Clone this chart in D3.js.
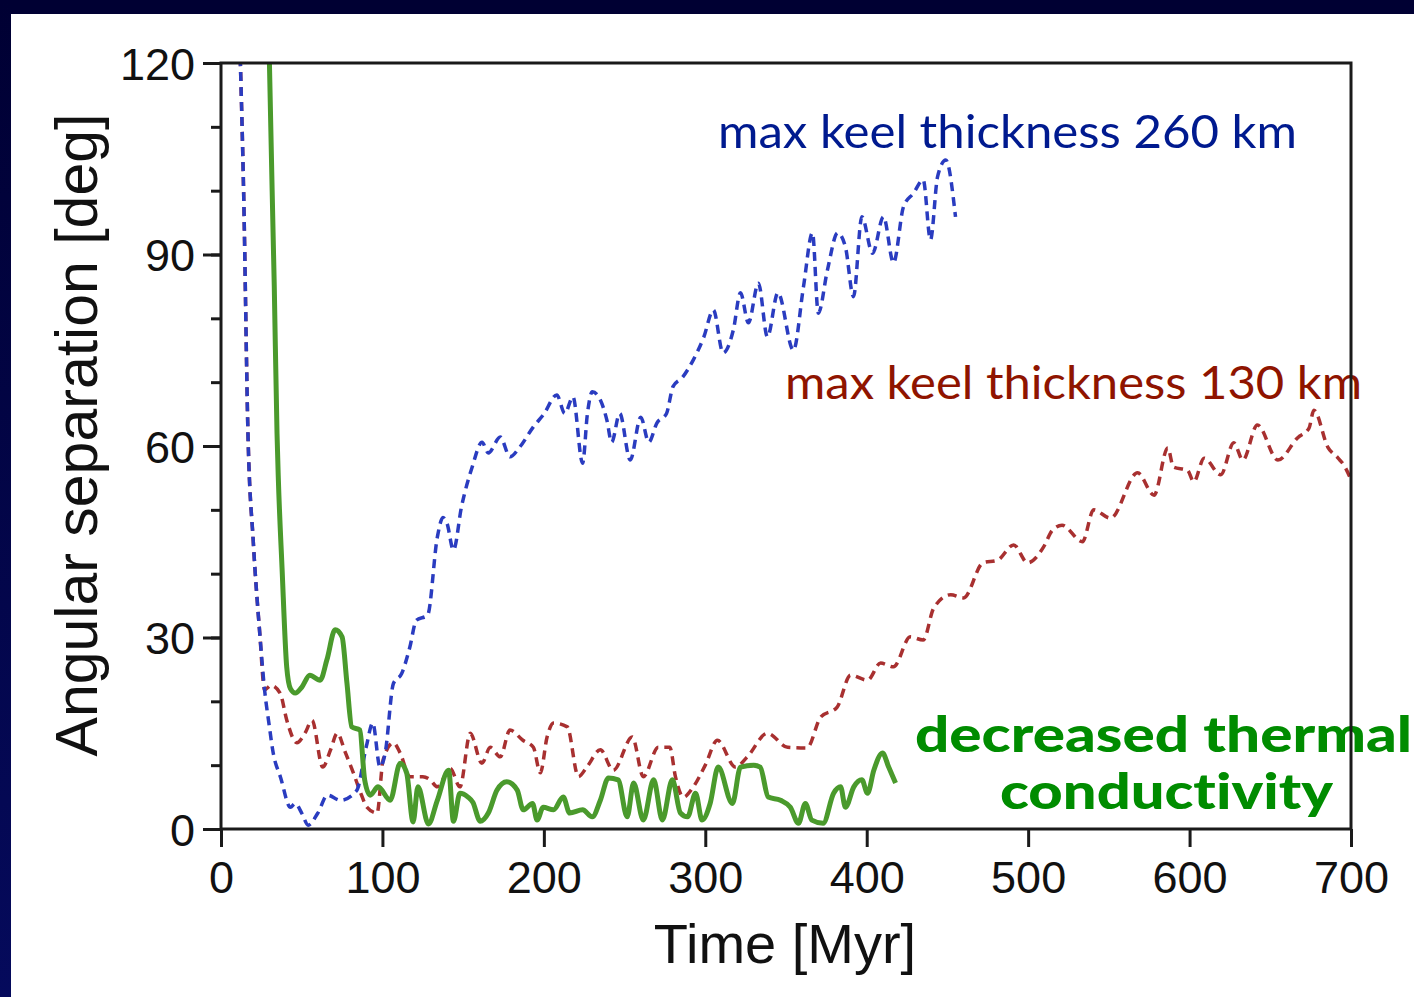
<!DOCTYPE html>
<html>
<head>
<meta charset="utf-8">
<script src="https://cdn.jsdelivr.net/npm/d3@7"></script>
<style>
  html, body { margin: 0; padding: 0; background: #fff; }
  svg { display: block; }
  text { font-variant-ligatures: none; }
</style>
</head>
<body>
<div id="chart"></div>
<script>
// data: [time Myr, angular separation deg]
const keel260 = [
  [10, 135], [12, 120], [14, 100], [16.7, 62], [20, 45], [24, 30.7], [27, 21.8], [30, 16],
  [32, 12.4], [37, 8], [43, 3.4], [46, 4], [50, 2.5], [54, 0.6], [60, 2.5], [66, 5.3],
  [74, 4.5], [84, 6], [90, 12.9], [94, 16.6], [98.5, 9.7], [101.7, 11.9], [106.8, 22.8],
  [112, 24.4], [117, 28.5], [121, 32.7], [128, 33.5], [134, 45.7], [137.5, 48.8], [140, 47.9],
  [144, 43.7], [149, 50.5], [155.6, 56.7], [161.7, 60.6], [165.6, 58.9], [173, 61.4],
  [179, 58.3], [185, 59.8], [193.5, 63], [200, 65], [208, 68], [213, 65.1], [218, 67.7],
  [224, 57.3], [227, 65.1], [230, 68.5], [235, 67.2], [239, 64.1], [242, 60.6], [247, 65.1],
  [253.5, 57.8], [260, 64.5], [265, 60.6], [270, 63.6], [276, 65.1], [280, 69.3], [286, 70.8],
  [292.6, 73.5], [299, 77], [305, 81.3], [311, 74.6], [317.4, 78.2], [321.8, 84], [326.7, 79.3],
  [332.9, 85.5], [338.5, 77.1], [345, 84], [354.6, 75], [360.8, 84.9], [366.4, 93.4],
  [370, 80.8], [375.7, 87.6], [382, 93.4], [386.8, 91.2], [391.8, 83.4], [397, 95.9],
  [403.6, 90.2], [410.4, 95.9], [416.6, 88.7], [422.8, 97.5], [429, 99.6], [435, 101.7],
  [439.5, 92.3], [443.9, 102.2], [449, 104.8], [455, 95.9]
];

const keel130 = [
  [10, 135], [12, 120], [14, 100], [16.7, 62], [20, 45], [24, 30.7], [27, 21.8], [31, 22.5],
  [36.6, 21.3], [40.8, 17], [47, 13.5], [52, 15], [56.4, 17], [63, 9.7], [68, 12.5], [72, 15],
  [77, 12], [82, 8.8], [86, 6], [90.5, 3.4], [96.7, 2.5], [100.4, 10.8], [106.8, 13.5],
  [111, 11.9], [117, 8.2], [125, 8.2], [129.6, 7.7], [134, 6.6], [142, 9.5], [148, 6.6],
  [154.4, 15], [161.6, 10.3], [166.8, 12.8], [173, 11.3], [179, 15.5], [187, 13.9],
  [193.5, 12.8], [197.8, 8.8], [202, 14.4], [206, 16.6], [214.5, 16], [221.4, 8.2],
  [226.6, 9.7], [235, 12.4], [243, 9.2], [254.8, 14.4], [261.6, 8.2], [270.9, 12.8],
  [278, 12.8], [281.5, 8.2], [286.4, 5], [292.6, 6.6], [300, 10], [307.5, 13.9], [318.7, 9.7],
  [326, 11.3], [338.5, 15], [351, 12.8], [363, 12.7], [371.4, 17.5], [381.7, 19.1],
  [390, 24.1], [400.5, 23.3], [408.6, 26], [416.6, 25.4], [427, 30.1], [435, 29.6],
  [441.5, 34.6], [452, 36.7], [460, 36.2], [472, 41.7], [481, 42.1], [491, 44.5],
  [499.7, 41.7], [509.6, 44.2], [515, 46.8], [521, 47.6], [533.6, 45], [540.6, 50],
  [551, 48.7], [567.8, 55.8], [578, 52.3], [586.5, 59.7], [590, 56.7], [598.7, 56.2],
  [602.6, 54.4], [609, 58.1], [619.3, 55.5], [627.4, 60.5], [633, 57.8], [642, 63.3],
  [654.7, 57.8], [667, 61.3], [674, 62.8], [677, 65.6], [685.7, 59.8], [692, 58.1],
  [695.6, 57], [700, 54.7]
];

const lowConductivity = [
  [29, 135], [30, 120], [33, 85], [34.7, 62], [35.5, 55], [37.8, 41], [40.7, 25.4], [43, 22],
  [46, 21.3], [50, 22.2], [55, 24.1], [61.4, 23.3], [65.6, 26.5], [70.7, 31.2], [75, 30.1],
  [78, 22.9], [81, 16], [86, 15.5], [89, 7.7], [92.4, 5.3], [97.3, 6.6], [104.8, 4.5],
  [111, 10.3], [115, 8.8], [119, 1.1], [122, 6.6], [128.5, 0.8], [134, 4.5], [141, 9.2],
  [144, 1.2], [148, 5.6], [153, 5], [156, 4.2], [160.6, 1.2], [165.6, 2.5], [171, 6.1],
  [177, 7.4], [183.5, 6.1], [187.2, 3], [193, 4], [195.8, 1.4], [199.6, 3.4], [206, 3],
  [212, 5], [216, 2.5], [224, 3], [230, 1.9], [235, 4.5], [240, 8], [246, 7.7], [251.6, 1.9],
  [255.6, 7.2], [261.6, 1.4], [268, 7.7], [273.4, 1.4], [279.6, 7.7], [284.6, 2.5],
  [289, 1.9], [294, 5.6], [298, 1.4], [303, 4], [308, 9.7], [316.8, 4], [321.8, 9.7],
  [330, 10], [334, 9.7], [339, 5], [346.6, 4.5], [352.7, 3.4], [357.7, 0.9], [362, 4],
  [366, 1.4], [373, 0.9], [379.5, 5.6], [383.8, 6.6], [386.8, 3.4], [392, 6.6], [397, 7.7],
  [400.5, 5.6], [404.4, 9.2], [409.8, 11.9], [413.6, 9.7], [417.9, 7.2]
];

const xTicks = [0, 100, 200, 300, 400, 500, 600, 700];
const yTicks = [0, 30, 60, 90, 120];
const yMinorTicks = [0, 10, 20, 30, 40, 50, 60, 70, 80, 90, 100, 110, 120];

const W = 1414, H = 997;
const plot = { left: 221, right: 1351, top: 63, bottom: 829 };

const svg = d3.select('#chart').append('svg')
  .attr('width', W).attr('height', H);

// dark slide frame
const defs = svg.append('defs');
const grad = defs.append('linearGradient').attr('id', 'frameGrad')
  .attr('x1', 0).attr('y1', 0).attr('x2', 0).attr('y2', 1);
grad.append('stop').attr('offset', '0%').attr('stop-color', '#000033');
grad.append('stop').attr('offset', '100%').attr('stop-color', '#050a5c');
defs.append('clipPath').attr('id', 'plotClip')
  .append('rect')
  .attr('x', plot.left).attr('y', plot.top)
  .attr('width', plot.right - plot.left).attr('height', plot.bottom - plot.top);

svg.append('rect').attr('width', W).attr('height', H).attr('fill', '#fff');
svg.append('rect').attr('x', 0).attr('y', 0).attr('width', W).attr('height', 14).attr('fill', '#000033');
svg.append('rect').attr('x', 0).attr('y', 0).attr('width', 11).attr('height', H).attr('fill', 'url(#frameGrad)');

const x = d3.scaleLinear().domain([0, 700]).range([plot.left, plot.right]);
const y = d3.scaleLinear().domain([0, 120]).range([plot.bottom, plot.top]);

// smooth-ish line, no overshoot past the read points
const line = d3.line()
  .x(d => x(d[0]))
  .y(d => y(d[1]))
  .curve(d3.curveMonotoneX);

// annotations (drawn first, the frame lines sit over them)
const notes = svg.append('g').attr('font-family', 'Lato, "Open Sans", sans-serif');
notes.append('text')
  .attr('x', 718).attr('y', 148)
  .attr('font-size', 47).attr('fill', '#001a8f')
  .attr('textLength', 579).attr('lengthAdjust', 'spacingAndGlyphs')
  .text('max keel thickness 260 km');
notes.append('text')
  .attr('x', 785).attr('y', 399)
  .attr('font-size', 47).attr('fill', '#8f1400')
  .attr('textLength', 577).attr('lengthAdjust', 'spacingAndGlyphs')
  .text('max keel thickness 130 km');
notes.append('text')
  .attr('x', 915).attr('y', 752)
  .attr('font-size', 50).attr('font-weight', 900).attr('fill', '#008c00')
  .attr('textLength', 497).attr('lengthAdjust', 'spacingAndGlyphs')
  .text('decreased thermal');
notes.append('text')
  .attr('x', 1000).attr('y', 809)
  .attr('font-size', 50).attr('font-weight', 900).attr('fill', '#008c00')
  .attr('textLength', 333).attr('lengthAdjust', 'spacingAndGlyphs')
  .text('conductivity');

// curves
const curves = svg.append('g').attr('clip-path', 'url(#plotClip)');
curves.append('path')
  .attr('d', line(keel130))
  .attr('fill', 'none').attr('stroke', '#a83030').attr('stroke-width', 3.5)
  .attr('stroke-dasharray', '9,6');
curves.append('path')
  .attr('d', line(keel260))
  .attr('fill', 'none').attr('stroke', '#2a3cc0').attr('stroke-width', 3.5)
  .attr('stroke-dasharray', '9,6');
curves.append('path')
  .attr('d', line(lowConductivity))
  .attr('fill', 'none').attr('stroke', '#4a9a2c').attr('stroke-width', 5)
  .attr('stroke-linejoin', 'round');

// axes
const axisFont = '"Liberation Sans", Arial, Helvetica, sans-serif';

const xAxis = svg.append('g')
  .attr('transform', 'translate(0,' + plot.bottom + ')')
  .call(d3.axisBottom(x).tickValues(xTicks).tickSize(18).tickPadding(14).tickFormat(d3.format('d')));
xAxis.selectAll('text').attr('font-size', 45).attr('font-family', axisFont).attr('fill', '#111');

const yAxisMinor = svg.append('g')
  .attr('transform', 'translate(' + plot.left + ',0)')
  .call(d3.axisLeft(y).tickValues(yMinorTicks).tickSize(10).tickFormat(''));

const yAxis = svg.append('g')
  .attr('transform', 'translate(' + plot.left + ',0)')
  .call(d3.axisLeft(y).tickValues(yTicks).tickSize(18).tickPadding(8).tickFormat(d3.format('d')));
yAxis.selectAll('text').attr('font-size', 45).attr('font-family', axisFont).attr('fill', '#111')
  .attr('dy', '0.36em');

[xAxis, yAxis, yAxisMinor].forEach(a => {
  a.select('.domain').remove();
  a.selectAll('line').attr('stroke', '#1a1a1a').attr('stroke-width', 3);
});

// box around the plot
svg.append('rect')
  .attr('x', plot.left).attr('y', plot.top)
  .attr('width', plot.right - plot.left).attr('height', plot.bottom - plot.top)
  .attr('fill', 'none').attr('stroke', '#1a1a1a').attr('stroke-width', 3);

// axis titles
svg.append('text')
  .attr('x', 785).attr('y', 963)
  .attr('text-anchor', 'middle')
  .attr('font-family', axisFont).attr('font-size', 56).attr('fill', '#111')
  .text('Time [Myr]');
svg.append('text')
  .attr('transform', 'translate(97,435) rotate(-90)')
  .attr('text-anchor', 'middle')
  .attr('font-family', axisFont).attr('font-size', 59).attr('fill', '#111')
  .text('Angular separation [deg]');
</script>
</body>
</html>
